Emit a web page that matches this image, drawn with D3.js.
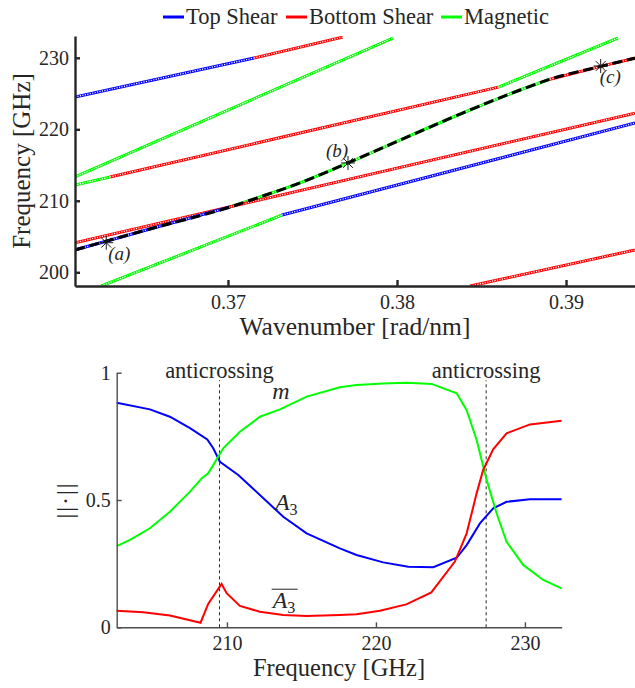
<!doctype html>
<html>
<head>
<meta charset="utf-8">
<script src="https://cdn.jsdelivr.net/npm/d3@7"></script>
</head>
<body style="margin:0;background:#fff">
<div id="chart"></div>
<script>
// ---- top panel: dispersion branches, grouped by mode character [k (rad/nm), f (GHz)]
var topShear = [
  [[0.36095, 224.52], [0.37154, 229.97]],
  [[0.36095, 203.12], [0.36538, 206.06], [0.37012, 209.13]],
  [[0.3732, 208.01], [0.39408, 220.88]]
];
var bottomShear = [
  [[0.37154, 229.97], [0.3768, 232.9]],
  [[0.36302, 213.33], [0.386, 225.9]],
  [[0.38905, 227.0], [0.39205, 228.8], [0.39408, 229.95]],
  [[0.36095, 204.14], [0.39408, 222.26]],
  [[0.38432, 198.08], [0.39408, 203.12]]
];
var magnetic = [
  [[0.36095, 213.33], [0.37976, 232.77]],
  [[0.36095, 212.21], [0.36302, 213.33]],
  [[0.386, 225.9], [0.39308, 232.77]],
  [[0.37012, 209.13], [0.37189, 210.53], [0.37426, 212.5], [0.3771, 215.29], [0.38018, 218.5], [0.38432, 222.7], [0.38728, 225.5], [0.38905, 227.0]],
  [[0.3625, 198.08], [0.3732, 208.01]]
];
// the tracked branch (dashed)
var tracked = [[0.36095, 203.12], [0.36538, 206.06], [0.37012, 209.13], [0.37189, 210.53], [0.37426, 212.5],
  [0.3771, 215.29], [0.38018, 218.5], [0.38432, 222.7], [0.38728, 225.5], [0.38905, 227.0], [0.39205, 228.8], [0.39408, 229.95]];
var markK = [0.3628, 0.3771, 0.39205];
var markF = [204.14, 215.29, 228.85];
var markLabels = ["(a)", "(b)", "(c)"];
var kTicks = [0.37, 0.38, 0.39];
var fTicks = [200, 210, 220, 230];
var legendNames = ["Top Shear", "Bottom Shear", "Magnetic"];

// ---- bottom panel: amplitudes vs frequency
var a3Freq = [202.6, 204.83, 206.17, 207.52, 208.68, 209.08, 209.53, 210.76, 212.21, 213.78, 215.35, 217.58, 218.7, 220.49, 222.17, 223.85, 225.42, 226.09, 226.98, 227.87, 228.77, 230.34, 232.46];
var a3Val  = [0.882, 0.856, 0.827, 0.782, 0.738, 0.703, 0.65, 0.598, 0.52, 0.434, 0.369, 0.31, 0.284, 0.255, 0.238, 0.236, 0.273, 0.323, 0.408, 0.467, 0.493, 0.503, 0.503];
var mFreq = [202.6, 203.49, 204.83, 206.17, 207.52, 208.3, 208.74, 209.08, 209.75, 210.87, 212.21, 213.56, 215.35, 217.58, 218.7, 220.49, 222.06, 223.74, 225.42, 226.09, 226.76, 227.43, 228.1, 228.77, 229.89, 231.23, 232.46];
var mVal  = [0.319, 0.343, 0.389, 0.454, 0.533, 0.585, 0.605, 0.637, 0.703, 0.768, 0.827, 0.856, 0.906, 0.943, 0.952, 0.958, 0.961, 0.956, 0.919, 0.853, 0.736, 0.579, 0.448, 0.336, 0.245, 0.186, 0.153];
var a3barFreq = [202.6, 204.38, 206.17, 208.23, 208.74, 209.64, 209.98, 210.87, 212.21, 213.78, 215.35, 217.58, 218.7, 220.27, 222.04, 223.72, 225.3, 226.09, 226.76, 227.2, 227.87, 228.77, 230.34, 232.46];
var a3barVal  = [0.065, 0.059, 0.046, 0.018, 0.092, 0.17, 0.134, 0.084, 0.061, 0.048, 0.044, 0.048, 0.051, 0.065, 0.09, 0.137, 0.258, 0.369, 0.526, 0.618, 0.699, 0.762, 0.797, 0.811];
var anticross = [209.5, 227.4];
var gTicks = [210, 220, 230];
var ampTicks = [0, 0.5, 1];

var W = 635, H = 688;
var FONT = "Liberation Serif";
var INK = "#262626";
var colors = { top: "#0000ff", bottom: "#ff0000", mag: "#00ff00" };

var svg = d3.select("#chart").append("svg").attr("width", W).attr("height", H)
   .attr("font-family", FONT);

function label(x, y, size, str) {
  return svg.append("text").attr("x", x).attr("y", y).attr("font-family", FONT)
     .attr("font-size", size).attr("fill", INK).text(str);
}

// ================= top panel =================
var xk = d3.scaleLinear().domain([0.36095, 0.39408]).range([75, 635]);
var yf = d3.scaleLinear().domain([198.08, 233.05]).range([286, 36]);

svg.append("clipPath").attr("id", "clipTop")
   .append("rect").attr("x", 75).attr("y", 36).attr("width", 560).attr("height", 250);

var plotTop = svg.append("g").attr("clip-path", "url(#clipTop)");
var lineK = d3.line().x(function(d){ return xk(d[0]); }).y(function(d){ return yf(d[1]); });
var lineKs = d3.line().x(function(d){ return xk(d[0]); }).y(function(d){ return yf(d[1]); }).curve(d3.curveMonotoneX);

function drawRings(segs, color) {
  segs.forEach(function(s){
    var l = s.length > 2 ? lineKs : lineK;
    plotTop.append("path").attr("d", l(s)).attr("fill", "none")
       .attr("stroke", color).attr("stroke-width", 3);
    // hollow marker look
    plotTop.append("path").attr("d", l(s)).attr("fill", "none")
       .attr("stroke", "#fff").attr("stroke-width", 1.2)
       .attr("stroke-dasharray", "1.2 1.3");
  });
}
drawRings(magnetic, colors.mag);
drawRings(bottomShear, colors.bottom);
drawRings(topShear, colors.top);

plotTop.append("path").attr("d", lineKs(tracked)).attr("fill", "none")
   .attr("stroke", "#000").attr("stroke-width", 3).attr("stroke-dasharray", "10 5");

// asterisk markers
markK.forEach(function(k, i){
  var cx = xk(k), cy = yf(markF[i]), r = 7;
  var g = svg.append("g").attr("stroke", "#1a1a1a").attr("stroke-width", 1);
  g.append("line").attr("x1", cx - r).attr("x2", cx + r).attr("y1", cy).attr("y2", cy);
  g.append("line").attr("x1", cx).attr("x2", cx).attr("y1", cy - r).attr("y2", cy + r);
  g.append("line").attr("x1", cx - r*0.7).attr("x2", cx + r*0.7).attr("y1", cy - r*0.7).attr("y2", cy + r*0.7);
  g.append("line").attr("x1", cx - r*0.7).attr("x2", cx + r*0.7).attr("y1", cy + r*0.7).attr("y2", cy - r*0.7);
});
var labOff = [[2, 17], [-22, -6], [-1, 17]];
markLabels.forEach(function(t, i){
  label(xk(markK[i]) + labOff[i][0], yf(markF[i]) + labOff[i][1], 19, t).attr("font-style", "italic");
});

// axes
var axY = svg.append("g").attr("transform", "translate(75,0)")
   .call(d3.axisLeft(yf).tickValues(fTicks).tickSizeInner(-5).tickSizeOuter(0).tickPadding(6));
var axX = svg.append("g").attr("transform", "translate(0,286)")
   .call(d3.axisBottom(xk).tickValues(kTicks).tickFormat(d3.format(".2f")).tickSizeInner(-6).tickSizeOuter(0).tickPadding(9));
[axY, axX].forEach(function(a){
  a.attr("font-family", FONT).attr("font-size", 20);
  a.select(".domain").attr("stroke", INK).attr("stroke-width", 2.4);
  a.selectAll(".tick line").attr("stroke", INK).attr("stroke-width", 2.4);
  a.selectAll("text").attr("font-family", FONT).attr("font-size", 20).attr("fill", INK);
});

label(355, 335, 25.5, "Wavenumber [rad/nm]").attr("text-anchor", "middle");
label(0, 0, 25, "Frequency [GHz]").attr("text-anchor", "middle")
   .attr("transform", "translate(30,161) rotate(-90)");

// legend
var legX = [163, 286, 441];
legendNames.forEach(function(n, i){
  var c = [colors.top, colors.bottom, colors.mag][i];
  svg.append("line").attr("x1", legX[i]).attr("x2", legX[i] + 21).attr("y1", 17).attr("y2", 17)
     .attr("stroke", c).attr("stroke-width", 3);
  label(legX[i] + 23, 24, 22.5, n);
});

// ================= bottom panel =================
var xg = d3.scaleLinear().domain([202.6, 232.47]).range([116.7, 561.7]);
var ya = d3.scaleLinear().domain([0, 1]).range([627.3, 372.7]);

anticross.forEach(function(f){
  svg.append("line").attr("x1", xg(f)).attr("x2", xg(f)).attr("y1", ya(0)).attr("y2", ya(0.97))
     .attr("stroke", INK).attr("stroke-width", 1).attr("stroke-dasharray", "3 3");
  label(xg(f), ya(0.98), 22.5, "anticrossing").attr("text-anchor", "middle");
});

var lineA = function(fx, vy){
  return d3.line()(fx.map(function(f, i){ return [xg(f), ya(vy[i])]; }));
};
svg.append("path").attr("d", lineA(a3Freq, a3Val)).attr("fill", "none").attr("stroke", colors.top).attr("stroke-width", 2);
svg.append("path").attr("d", lineA(mFreq, mVal)).attr("fill", "none").attr("stroke", colors.mag).attr("stroke-width", 2);
svg.append("path").attr("d", lineA(a3barFreq, a3barVal)).attr("fill", "none").attr("stroke", colors.bottom).attr("stroke-width", 2);

label(xg(213.04), ya(0.895), 24, "m").attr("font-style", "italic");
var tA = label(xg(213.22), ya(0.461), 24, null);
tA.append("tspan").attr("font-style", "italic").text("A");
tA.append("tspan").attr("font-size", 16).attr("dy", 5).text("3");
var tB = label(xg(213.07), ya(0.075), 24, null);
tB.append("tspan").attr("font-style", "italic").text("A");
tB.append("tspan").attr("font-size", 16).attr("dy", 5).text("3");
svg.append("line").attr("x1", xg(213.07) - 1).attr("x2", xg(213.07) + 25).attr("y1", ya(0.075) - 19).attr("y2", ya(0.075) - 19)
   .attr("stroke", INK).attr("stroke-width", 1);

var bY = svg.append("g").attr("transform", "translate(116.7,0)")
   .call(d3.axisLeft(ya).tickValues(ampTicks).tickFormat(d3.format("")).tickSizeInner(-5).tickSizeOuter(0).tickPadding(6));
var bX = svg.append("g").attr("transform", "translate(0,627.3)")
   .call(d3.axisBottom(xg).tickValues(gTicks).tickSizeInner(-5).tickSizeOuter(0).tickPadding(9));
[bY, bX].forEach(function(a){
  a.attr("font-family", FONT).attr("font-size", 20);
  a.select(".domain").attr("stroke", "#4d4d4d").attr("stroke-width", 1.4);
  a.selectAll(".tick line").attr("stroke", "#4d4d4d").attr("stroke-width", 1.4);
  a.selectAll("text").attr("font-family", FONT).attr("font-size", 20).attr("fill", INK);
});
label(339, 676, 24.5, "Frequency [GHz]").attr("text-anchor", "middle");
label(0, 0, 24, "||·||").attr("text-anchor", "middle").attr("letter-spacing", 2)
   .attr("transform", "translate(73,500) rotate(-90)");
</script>
</body>
</html>
